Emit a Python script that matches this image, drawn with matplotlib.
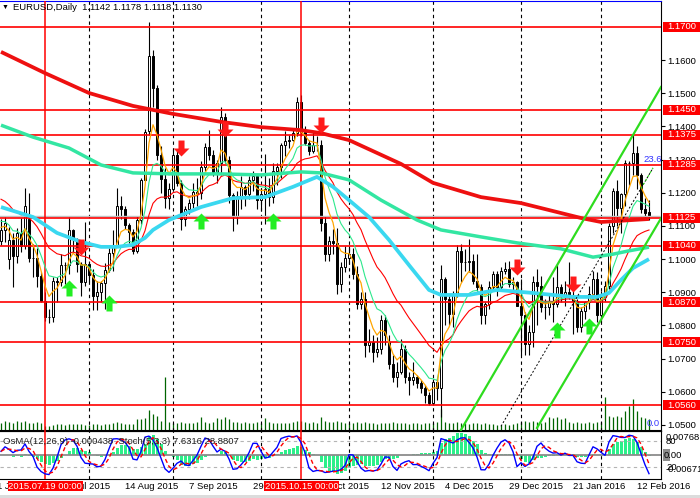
import numpy as np
import pandas as pd
import matplotlib
matplotlib.use('Agg')
import matplotlib.pyplot as plt
import matplotlib.transforms as mtransforms
from matplotlib.path import Path
from matplotlib.patches import Rectangle

plt.rcParams['font.family'] = ['Liberation Sans', 'DejaVu Sans']
plt.rcParams['font.size'] = 6.8

# EURUSD daily bars, 2 Jul 2015 .. 17 Feb 2016 (bar index = slot on the chart)
opens = [1.1055, 1.1087, 1.1000, 1.1057, 1.1008, 1.1079, 1.1039, 1.1120, 1.1003, 1.1003, 1.0950,
         1.0874, 1.0826, 1.0824, 1.0934, 1.0931, 1.0981, 1.0981, 1.1087, 1.1062, 1.0986, 1.0931,
         1.0985, 1.0952, 1.0890, 1.0902, 1.0927, 1.0966, 1.1018, 1.1041, 1.1161, 1.1151, 1.1104,
         1.1083, 1.1026, 1.1118, 1.1240, 1.1385, 1.1614, 1.1515, 1.1314, 1.1242, 1.1185,
         1.1211, 1.1315, 1.1230, 1.1120, 1.1150, 1.1168, 1.1203, 1.1200, 1.1277, 1.1339, 1.1315,
         1.1262, 1.1290, 1.1430, 1.1300, 1.1193, 1.1131, 1.1191, 1.1217, 1.1196, 1.1240, 1.1251,
         1.1178, 1.1195, 1.1210, 1.1188, 1.1266, 1.1278, 1.1345, 1.1355, 1.1360, 1.1380, 1.1473,
         1.1383, 1.1350, 1.1325, 1.1345, 1.1345, 1.1108, 1.1015, 1.1054, 1.1048, 1.0925, 1.0976,
         1.1004, 1.1016, 1.0955, 1.0865, 1.0880, 1.0740, 1.0750, 1.0720, 1.0730, 1.0815, 1.0750,
         1.0685, 1.0645, 1.0660, 1.0730, 1.0645, 1.0635, 1.0645, 1.0625, 1.0610, 1.0590,
         1.0565, 1.0630, 1.0612, 1.0940, 1.0880, 1.0835, 1.0895, 1.1025, 1.0990, 1.0990, 1.0995,
         1.0935, 1.0915, 1.0830, 1.0865, 1.0915, 1.0955, 1.0915, 1.0965, 1.0970, 1.0925, 1.0930,
         1.0860, 1.0830, 1.0745, 1.0780, 1.0930, 1.0920, 1.0855, 1.0855, 1.0875, 1.0865, 1.0915,
         1.0890, 1.0900, 1.0890, 1.0875, 1.0795, 1.0845, 1.0870, 1.0895, 1.0940,
         1.0830, 1.0885, 1.0920, 1.1100, 1.1205, 1.1155, 1.1195, 1.1290, 1.1290, 1.1320, 1.1255,
         1.1150, 1.1142]
highs = [1.1120, 1.1128, 1.1096, 1.1080, 1.1095, 1.1124, 1.1215, 1.1200, 1.1045, 1.1035, 1.0962,
         1.0900, 1.0850, 1.0945, 1.0945, 1.1015, 1.0990, 1.1128, 1.1090, 1.1065, 1.0990, 1.1112,
         1.0990, 1.0970, 1.0935, 1.0935, 1.0988, 1.1035, 1.1087, 1.1214, 1.1190, 1.1160, 1.1110,
         1.1090, 1.1130, 1.1245, 1.1392, 1.1714, 1.1630, 1.1525, 1.1340, 1.1275, 1.1230,
         1.1332, 1.1330, 1.1240, 1.1160, 1.1180, 1.1230, 1.1245, 1.1295, 1.1350, 1.1390, 1.1330,
         1.1300, 1.1460, 1.1440, 1.1310, 1.1200, 1.1205, 1.1250, 1.1225, 1.1250, 1.1265, 1.1255,
         1.1215, 1.1317, 1.1245, 1.1290, 1.1290, 1.1350, 1.1385, 1.1375, 1.1390, 1.1489, 1.1495,
         1.1400, 1.1360, 1.1385, 1.1370, 1.1360, 1.1130, 1.1070, 1.1090, 1.1095, 1.0990, 1.1040,
         1.1040, 1.1035, 1.0980, 1.0900, 1.0900, 1.0790, 1.0770, 1.0765, 1.0830, 1.0830, 1.0770,
         1.0710, 1.0690, 1.0760, 1.0740, 1.0660, 1.0690, 1.0650, 1.0635, 1.0620, 1.0600,
         1.0640, 1.0640, 1.0982, 1.0945, 1.0890, 1.0905, 1.1043, 1.1045, 1.1030, 1.1060, 1.1015,
         1.1015, 1.0925, 1.0870, 1.0935, 1.0965, 1.0965, 1.0975, 1.0990, 1.0995, 1.0945, 1.0935,
         1.0940, 1.0840, 1.0800, 1.0950, 1.0970, 1.0950, 1.0880, 1.0895, 1.0945, 1.0985, 1.0925,
         1.0935, 1.0990, 1.0935, 1.0880, 1.0855, 1.0875, 1.0920, 1.0965, 1.0960,
         1.0905, 1.0935, 1.1110, 1.1215, 1.1240, 1.1200, 1.1300, 1.1295, 1.1376, 1.1340, 1.1260,
         1.1185, 1.1178]
lows = [1.1044, 1.1053, 1.0970, 1.0915, 1.0987, 1.1020, 1.1030, 1.0990, 1.0945, 1.0915, 1.0870,
        1.0812, 1.0808, 1.0810, 1.0870, 1.0920, 1.0925, 1.0955, 1.1020, 1.0960, 1.0890, 1.0920,
        1.0930, 1.0848, 1.0846, 1.0870, 1.0850, 1.0960, 1.0965, 1.1040, 1.1120, 1.1090, 1.1050,
        1.1016, 1.1017, 1.1105, 1.1235, 1.1375, 1.1460, 1.1300, 1.1200, 1.1155, 1.1150,
        1.1205, 1.1220, 1.1087, 1.1100, 1.1135, 1.1155, 1.1160, 1.1180, 1.1265, 1.1300, 1.1250,
        1.1230, 1.1255, 1.1290, 1.1170, 1.1085, 1.1105, 1.1150, 1.1160, 1.1180, 1.1205, 1.1150,
        1.1145, 1.1105, 1.1160, 1.1170, 1.1225, 1.1245, 1.1310, 1.1335, 1.1355, 1.1370, 1.1370,
        1.1345, 1.1315, 1.1320, 1.1325, 1.1085, 1.0995, 1.0995, 1.1015, 1.0895, 1.0900, 1.0960,
        1.0985, 1.0940, 1.0850, 1.0850, 1.0705, 1.0720, 1.0690, 1.0705, 1.0715, 1.0740, 1.0670,
        1.0630, 1.0615, 1.0655, 1.0625, 1.0590, 1.0620, 1.0610, 1.0595, 1.0565, 1.0560,
        1.0560, 1.0575, 1.0524, 1.0800, 1.0800, 1.0795, 1.0885, 1.0930, 1.0965, 1.0960, 1.0925,
        1.0905, 1.0805, 1.0805, 1.0850, 1.0905, 1.0890, 1.0910, 1.0955, 1.0915, 1.0905, 1.0860,
        1.0710, 1.0710, 1.0710, 1.0735, 1.0800, 1.0840, 1.0820, 1.0830, 1.0810, 1.0855, 1.0870,
        1.0860, 1.0880, 1.0775, 1.0780, 1.0780, 1.0820, 1.0850, 1.0890, 1.0810,
        1.0810, 1.0875, 1.0910, 1.1080, 1.1100, 1.1080, 1.1160, 1.1225, 1.1255, 1.1210, 1.1140,
        1.1120, 1.1118]
closes = [1.1087, 1.1108, 1.1057, 1.1008, 1.1079, 1.1039, 1.1161, 1.1003, 1.1003, 1.0950, 1.0874,
          1.0826, 1.0824, 1.0934, 1.0931, 1.0981, 1.0981, 1.1087, 1.1062, 1.0986, 1.0931, 1.0985,
          1.0952, 1.0890, 1.0902, 1.0927, 1.0966, 1.1018, 1.1041, 1.1161, 1.1151, 1.1104, 1.1083,
          1.1026, 1.1118, 1.1240, 1.1384, 1.1614, 1.1515, 1.1314, 1.1242, 1.1185, 1.1211,
          1.1315, 1.1230, 1.1120, 1.1150, 1.1168, 1.1203, 1.1200, 1.1277, 1.1339, 1.1315, 1.1262,
          1.1290, 1.1430, 1.1300, 1.1193, 1.1131, 1.1191, 1.1217, 1.1196, 1.1240, 1.1251, 1.1178,
          1.1195, 1.1210, 1.1188, 1.1266, 1.1278, 1.1345, 1.1355, 1.1360, 1.1380, 1.1473, 1.1383,
          1.1350, 1.1325, 1.1345, 1.1345, 1.1108, 1.1015, 1.1054, 1.1048, 1.0925, 1.0976, 1.1004,
          1.1016, 1.0955, 1.0865, 1.0880, 1.0740, 1.0750, 1.0720, 1.0730, 1.0815, 1.0770, 1.0685,
          1.0645, 1.0660, 1.0730, 1.0645, 1.0635, 1.0645, 1.0625, 1.0610, 1.0590, 1.0565,
          1.0630, 1.0612, 1.0940, 1.0880, 1.0835, 1.0895, 1.1025, 1.0990, 1.0990, 1.0995, 1.0935,
          1.0915, 1.0830, 1.0865, 1.0915, 1.0955, 1.0915, 1.0965, 1.0970, 1.0925, 1.0930, 1.0860,
          1.0830, 1.0745, 1.0780, 1.0930, 1.0920, 1.0855, 1.0855, 1.0875, 1.0865, 1.0915, 1.0890,
          1.0900, 1.0890, 1.0875, 1.0795, 1.0845, 1.0870, 1.0895, 1.0940, 1.0830,
          1.0885, 1.0920, 1.1100, 1.1205, 1.1155, 1.1195, 1.1290, 1.1290, 1.1320, 1.1255, 1.1150,
          1.1140, 1.1130]
volumes = [80, 100, 90, 80, 100, 90, 100, 80, 80, 90, 80, 50, 50, 60, 70, 70, 60, 70, 70, 70, 70, 60,
           60, 70, 70, 60, 70, 70, 80, 90, 80, 70, 70, 70, 120, 120, 130, 210, 170, 150, 100, 540, 90,
           80, 80, 90, 80, 80, 80, 90, 140, 90, 80, 90, 130, 120, 140, 120, 90, 90, 80, 90, 80, 80, 90,
           80, 130, 90, 80, 80, 80, 80, 80, 90, 100, 100, 90, 80, 90, 80, 140, 100, 90, 90, 100, 90, 80,
           80, 80, 90, 80, 90, 80, 80, 70, 80, 80, 80, 90, 80, 80, 80, 70, 80, 80, 70, 80, 80,
           80, 90, 220, 90, 80, 80, 90, 80, 80, 70, 80, 80, 70, 80, 70, 70, 60, 60, 70, 60, 70, 80,
           90, 100, 90, 100, 90, 80, 90, 140, 130, 140, 120, 130, 90, 80, 90, 80, 80, 90, 80, 90,
           90, 340, 150, 140, 150, 140, 200, 250, 320, 200, 140, 130, 120]

# long moving averages (bar index, price)
ma_red_idx = [0, 11, 22, 33, 43, 55, 65, 75, 80, 87, 100, 108, 120, 130, 137, 145, 150, 158, 162]
ma_red_val = [1.1625, 1.1561, 1.1501, 1.1462, 1.1438, 1.1414, 1.1398, 1.1389, 1.1380, 1.1359,
              1.1287, 1.1230, 1.1187, 1.1169, 1.1148, 1.1124, 1.1112, 1.1118, 1.1121]
ma_mint_idx = [0, 8, 17, 25, 33, 43, 55, 65, 75, 80, 87, 95, 104, 110, 120, 129, 140, 148, 153, 157, 162]
ma_mint_val = [1.1404, 1.1368, 1.1335, 1.1284, 1.1260, 1.1257, 1.1257, 1.1254, 1.1263, 1.1260,
               1.1239, 1.1178, 1.1118, 1.1088, 1.1067, 1.1049, 1.1031, 1.1006, 1.1015, 1.1025, 1.1036]
ma_cyan_idx = [0, 8, 14, 20, 25, 29, 33, 36, 38, 42, 50, 58, 66, 73, 79, 83, 87, 92, 97, 102, 107,
               110, 117, 124, 133, 143, 149, 152, 155, 158, 162]
ma_cyan_val = [1.1157, 1.1127, 1.1079, 1.1052, 1.1037, 1.1037, 1.1043, 1.1064, 1.1088, 1.1118,
               1.1157, 1.1184, 1.1187, 1.1218, 1.1248, 1.1218, 1.1178, 1.1127, 1.1058, 1.0982,
               1.0907, 1.0892, 1.0892, 1.0907, 1.0898, 1.0886, 1.0886, 1.0898, 1.0937, 1.0973, 1.1000]
# starting values of the short averages at the left edge
seed_orange, seed_green, seed_red = 1.1100, 1.1120, 1.1190

levels = [1.1700, 1.1450, 1.1375, 1.1285, 1.1125, 1.1040, 1.0870, 1.0750, 1.0560]
price_ticks = [1.05, 1.06, 1.07, 1.08, 1.09, 1.10, 1.11, 1.12, 1.13, 1.14, 1.15, 1.16]

down_idx = [20, 45, 56, 80, 129, 143]
down_tip = [1.1012, 1.1311, 1.1368, 1.1380, 1.0952, 1.0901]
up_idx = [17, 27, 50, 68, 139, 147]
up_tip = [1.0937, 1.0892, 1.1139, 1.1139, 1.0811, 1.0822]

chan_upper = ([115, 165], [1.0485, 1.1519])
chan_lower = ([134, 165], [1.0491, 1.1123])
chan_mid = ([125, 163], [1.0496, 1.1275])
chan_mid_tail = ([160, 163], [1.1213, 1.1275])

month_starts = [22, 43, 65, 87, 108, 130, 150]
date_idx = [-1, 15, 31, 47, 63, 79, 95, 111, 127, 143, 159]
date_labels = ['1 Jul 2015', '23 Jul 2015', '14 Aug 2015', '7 Sep 2015', '29 Sep 2015', '21 Oct 2015',
               '12 Nov 2015', '4 Dec 2015', '29 Dec 2015', '21 Jan 2016', '12 Feb 2016']
red_vline_idx = [11, 75]
red_vline_labels = ['2015.07.19 00:00', '2015.10.15 00:00']

# ---- indicators from the bars ----
n = len(closes)
idx = np.arange(n)
o = np.array(opens); h = np.array(highs); l = np.array(lows); c = np.array(closes)
cs = pd.Series(closes)


def ema(series, span, seed):
    s = pd.concat([pd.Series([seed]), series], ignore_index=True)
    return s.ewm(span=span, adjust=False).mean().iloc[1:].to_numpy()


ma_orange = ema(cs, 5, seed_orange)
ma_green = ema(cs, 10, seed_green)
ma_thin_red = ema(cs, 21, seed_red)

lo5 = pd.Series(lows).rolling(5, min_periods=1).min()
hi5 = pd.Series(highs).rolling(5, min_periods=1).max()
stoch_k = 100 * (cs - lo5).rolling(3, min_periods=1).sum() / (hi5 - lo5).rolling(3, min_periods=1).sum()
stoch_d = stoch_k.rolling(3, min_periods=1).mean()
macd = cs.ewm(span=12, adjust=False).mean() - cs.ewm(span=26, adjust=False).mean()
osma = macd - macd.rolling(9, min_periods=1).mean()

# ---- layout (pixel boxes) ----
W, H = 700, 498
fig = plt.figure(figsize=(7, 4.98), dpi=100)
fig.patch.set_facecolor('white')


def box(x0, y0, x1, y1):
    return [x0 / W, 1 - y1 / H, (x1 - x0) / W, (y1 - y0) / H]


ax_vol = fig.add_axes(box(0, 1, 661, 431))
ax = fig.add_axes(box(0, 1, 661, 431))
ax_os = fig.add_axes(box(0, 431, 661, 479))
ax_st = fig.add_axes(box(0, 431, 661, 479))

xlim = (-0.25, 165)
for a in (ax_vol, ax, ax_os, ax_st):
    a.set_xlim(*xlim)
ax.set_ylim(1.04817, 1.17784)
ax_vol.set_ylim(0, 4300)
# OsMA window scaled to its largest swing, zero line mid-panel
os_top = np.abs(osma).max() * 24 / 22
ax_os.set_ylim(-os_top, os_top)
ax_st.set_ylim(-6.6, 103)
ax_vol.axis('off')
ax_os.axis('off')
ax.patch.set_visible(False)
ax_st.patch.set_visible(False)

# volume
ax_vol.vlines(idx, 0, volumes, color='#006400', lw=0.9)

# grid and vertical markers
for m in month_starts:
    ax.axvline(m, color='black', lw=0.8, ls=(0, (3, 3)), zorder=1)
    ax_st.axvline(m, color='black', lw=0.8, ls=(0, (3, 3)), zorder=1)
for v in red_vline_idx:
    ax.axvline(v, color='red', lw=1.1, zorder=4)
    ax_st.axvline(v, color='red', lw=1.1, zorder=4)

# candles
ax.vlines(idx, l, h, color='black', lw=0.8, zorder=2)
up = c >= o
ax.bar(idx, np.abs(c - o), bottom=np.minimum(o, c), width=0.5,
       color=np.where(up, 'white', 'black'), edgecolor='black', linewidth=0.7, zorder=3)

# horizontal levels and bid line
for lv in levels:
    ax.axhline(lv, color='red', lw=1.2, zorder=4)
ax.axhline(closes[-1], color='#c0c0c0', lw=1, zorder=3.5)

# moving averages
ax.plot(idx, ma_thin_red, color='red', lw=0.8, zorder=5)
ax.plot(idx, ma_green, color='#2de88c', lw=0.8, zorder=5)
ax.plot(idx, ma_orange, color='#ffa500', lw=0.9, zorder=5)
ax.plot(ma_mint_idx, ma_mint_val, color='#33e6a2', lw=2.5, zorder=6, solid_capstyle='butt')
ax.plot(ma_cyan_idx, ma_cyan_val, color='#3ad8f0', lw=2.7, zorder=6, solid_capstyle='butt')
ax.plot(ma_red_idx, ma_red_val, color='#ee1010', lw=2.7, zorder=6, solid_capstyle='butt')

# channel
ax.plot(*chan_upper, color='#2edc1e', lw=1.6, zorder=7)
ax.plot(*chan_lower, color='#2edc1e', lw=1.6, zorder=7)
ax.plot(*chan_mid, color='black', lw=0.7, ls=(0, (2, 2)), zorder=7)
ax.plot(*chan_mid_tail, color='#2edc1e', lw=0.8, ls=(0, (2, 2)), zorder=7)
ax.text(160.5, 1.1299, '23.6', color='#3030ff', ha='left', va='center', zorder=9)

# signal arrows
down_v = [(0, 0), (0.5, 0.5), (0.19, 0.5), (0.19, 1), (-0.19, 1), (-0.19, 0.5), (-0.5, 0.5), (0, 0)]
down_marker = Path(down_v, closed=True)
up_marker = Path([(x, -y) for x, y in down_v], closed=True)
ax.plot(down_idx, down_tip, ls='none', marker=down_marker, ms=23, mfc='#ff1a1a', mew=0, zorder=8)
ax.plot(up_idx, up_tip, ls='none', marker=up_marker, ms=23, mfc='#22ee22', mew=0, zorder=8)

# right price scale
ax.set_xticks([])
ax.yaxis.tick_right()
ax.set_yticks(price_ticks)
ax.set_yticklabels([f'{p:.4f}' for p in price_ticks])
ax.tick_params(axis='y', length=3, width=0.8, pad=1.2, labelsize=6.8)
ax.spines['left'].set_visible(False)
ax.spines['top'].set_color('#0000ff')
ax.spines['bottom'].set_linewidth(1.5)

bt = mtransforms.blended_transform_factory(ax.transAxes, ax.transData)
px = (1.17784 - 1.04817) / 430
for lv in levels:
    ax.add_patch(Rectangle((663 / 661, lv - 5 * px), 37 / 661, 10 * px, transform=bt,
                           fc='red', ec='none', clip_on=False, zorder=6))
    ax.text(667 / 661, lv, f'{lv:.4f}', transform=bt, color='white', ha='left', va='center', zorder=7)
ax.text(647 / 661, 8 / 430, '0.0', transform=ax.transAxes, color='#3c3cff', ha='left', va='center')

# oscillator panel
ax_os.bar(idx, osma, width=0.75, color='#2cf08a', zorder=2)
ax_os.axhline(0, color='#8c8c8c', lw=1.3, zorder=3)
ax_st.axhline(80, color='#b4b4b4', lw=0.8, ls=(0, (3, 3)))
ax_st.axhline(20, color='#b4b4b4', lw=0.8, ls=(0, (3, 3)))
ax_st.plot(idx, stoch_k, color='#0000ff', lw=1, zorder=4)
ax_st.plot(idx, stoch_d, color='red', lw=1, ls=(0, (3, 2)), zorder=4)
ax_st.set_xticks([])
ax_st.set_yticks([])
ax_st.spines['left'].set_visible(False)
ax_st.spines['bottom'].set_linewidth(0.8)

sbt = mtransforms.blended_transform_factory(ax_st.transAxes, ax_st.transData)
ax_st.text(666 / 661, 80, '80', transform=sbt, ha='left', va='center')
ax_st.text(666 / 661, 20, '20', transform=sbt, ha='left', va='center')
ax_st.text(666 / 661, (479 - 437.5) / 48, '0.00768', transform=ax_st.transAxes, ha='left', va='center')
ax_st.text(666 / 661, (479 - 469) / 48, '-0.00671', transform=ax_st.transAxes, ha='left', va='center')
ax_st.add_patch(Rectangle((663 / 661, 0.5 - 6 / 48), 7 / 661, 12 / 48, transform=ax_st.transAxes,
                          fc='#8c8c8c', ec='none', clip_on=False, zorder=5))
ax_st.text(664 / 661, 0.5, '0.00', transform=ax_st.transAxes, ha='left', va='center', zorder=6)

# date axis
dbt = mtransforms.blended_transform_factory(ax_st.transData, ax_st.transAxes)
for i, lab in zip(date_idx, date_labels):
    ax_st.text(i, -0.15, lab, transform=dbt, ha='left', va='center', zorder=3)
for i, lab in zip(red_vline_idx, red_vline_labels):
    ax_st.text(i + 0.1, -0.15, lab, transform=dbt, ha='center', va='center', color='white', zorder=10,
               bbox=dict(boxstyle='square,pad=0.08', fc='red', ec='none'))

# captions
fig.text(2 / W, 1 - 7.5 / H, '\u25bc', fontsize=5, ha='left', va='center')
fig.text(13 / W, 1 - 7.5 / H, 'EURUSD,Daily  1.1142 1.1178 1.1118 1.1130', ha='left', va='center')
fig.text(3 / W, 1 - 441 / H, 'OsMA(12,26,9) -0.000438  Stoch(5,3,3) 7.6316 28.8807',
         ha='left', va='center', color='#202020')
fig.add_artist(Rectangle((0, 0), 1, 3 / H, transform=fig.transFigure, fc='#dcdcdc', ec='none'))

fig.savefig('out.png', dpi=100)
